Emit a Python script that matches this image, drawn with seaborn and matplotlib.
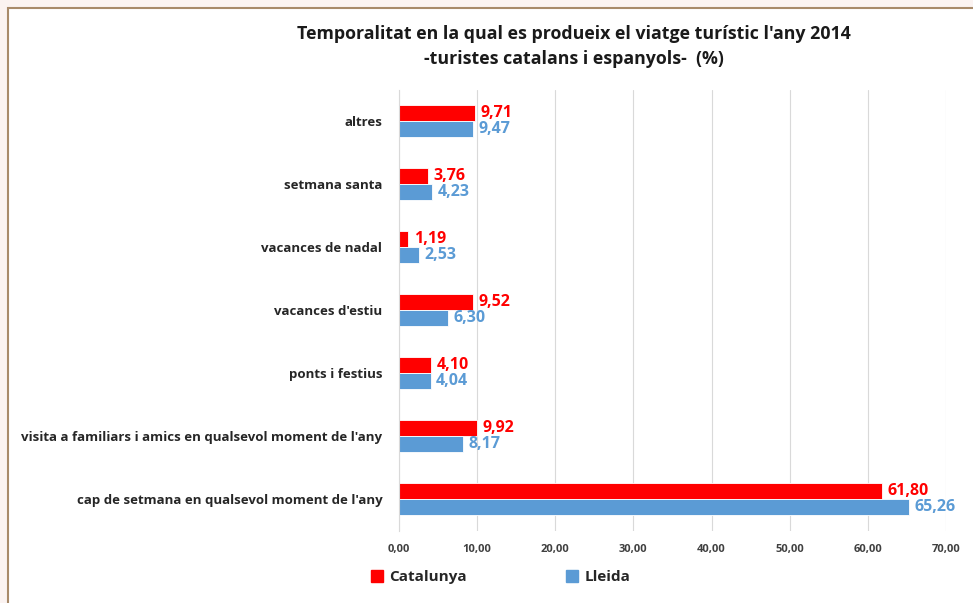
import pandas as pd
import numpy as np
import seaborn as sns
import matplotlib.pyplot as plt
from matplotlib.patches import Rectangle
from matplotlib.lines import Line2D

sns.set_style('white')
plt.rcParams['font.family'] = ['Open Sans', 'DejaVu Sans']

# dades
categories = ['altres', 'setmana santa', 'vacances de nadal', "vacances d'estiu",
              'ponts i festius', "visita a familiars i amics en qualsevol moment de l'any",
              "cap de setmana en qualsevol moment de l'any"]
catalunya = [9.71, 3.76, 1.19, 9.52, 4.10, 9.92, 61.80]
lleida = [9.47, 4.23, 2.53, 6.30, 4.04, 8.17, 65.26]
series = ['Catalunya', 'Lleida']
colors = {'Catalunya': '#FF0000', 'Lleida': '#5B9BD5'}
ticks = [0, 10, 20, 30, 40, 50, 60, 70]

df = pd.DataFrame({
    'cat': categories * 2,
    'val': catalunya + lleida,
    'serie': ['Catalunya'] * len(categories) + ['Lleida'] * len(categories),
})

fig = plt.figure(figsize=(9.73, 6.03), dpi=100)
fig.patch.set_facecolor('#fbf3f1')
# marc blanc
fig.patches.append(Rectangle((8 / 973, -0.01), 1.0, 1 - 8 / 603 + 0.01, transform=fig.transFigure,
                             facecolor='white', edgecolor='#a88a6a', linewidth=1.5, zorder=-5))

ax = fig.add_axes([399 / 973, 1 - 530.5 / 603, 547 / 973, 441 / 603])
ax.set_zorder(2)
ax.patch.set_alpha(0)
sns.barplot(data=df, y='cat', x='val', hue='serie', orient='h', palette=colors,
            hue_order=series, width=0.5, ax=ax, saturation=1, legend=False,
            edgecolor='white', linewidth=0.6)

for cont, s in zip(ax.containers, series):
    ax.bar_label(cont, labels=[f'{v:.2f}'.replace('.', ',') for v in cont.datavalues],
                 padding=4, color=colors[s], fontsize=11.5, fontweight='bold')

ax.set_xlim(0, 70)
ax.set_xticks(ticks)
ax.set_xticklabels([f'{t:.2f}'.replace('.', ',') for t in ticks], fontsize=8,
                   fontweight='bold', color='#404040')
ax.tick_params(axis='x', length=0, pad=10)
ax.tick_params(axis='y', length=0, pad=12)
for lab in ax.get_yticklabels():
    lab.set_fontsize(9.5)
    lab.set_fontweight('bold')
    lab.set_color('#262626')
ax.set_xlabel('')
ax.set_ylabel('')
ax.xaxis.grid(True, color='#d9d9d9', linewidth=0.8)
ax.set_axisbelow(True)
for sp in ['top', 'right', 'bottom']:
    ax.spines[sp].set_visible(False)
ax.spines['left'].set_color('#d9d9d9')

fig.text(0.59, 0.923, "Temporalitat en la qual es produeix el viatge turístic l'any 2014\n"
         "-turistes catalans i espanyols-  (%)", ha='center', va='center',
         fontsize=12.8, fontweight='bold', color='#1a1a1a', linespacing=1.5)

handles = [Line2D([], [], marker='s', linestyle='', markersize=8, color=colors[s]) for s in series]
leg = fig.legend(handles, series, loc='center left', bbox_to_anchor=(348 / 973, 1 - 577 / 603),
                 ncol=2, frameon=False, columnspacing=5.9, handletextpad=-0.2,
                 prop={'size': 11, 'weight': 'bold'})
for t in leg.get_texts():
    t.set_color('#262626')

fig.savefig('out.png', dpi=100)
